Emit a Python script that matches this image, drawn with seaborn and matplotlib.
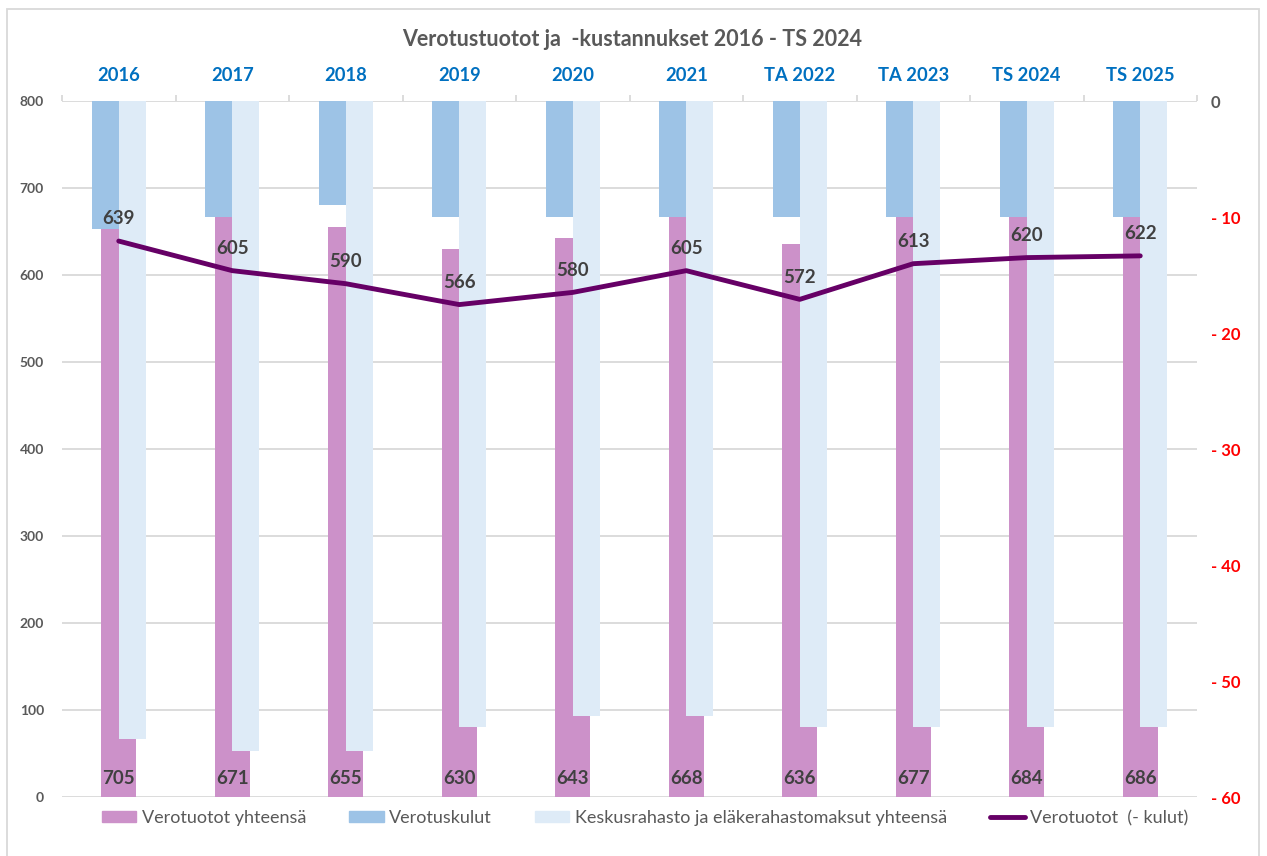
import numpy as np
import pandas as pd
import seaborn as sns
import matplotlib.pyplot as plt
from matplotlib.patches import Patch, Rectangle
from matplotlib.lines import Line2D

# data
vuodet = ["2016", "2017", "2018", "2019", "2020", "2021", "TA 2022", "TA 2023", "TS 2024", "TS 2025"]
verotuotot = [705, 671, 655, 630, 643, 668, 636, 677, 684, 686]
netto = [639, 605, 590, 566, 580, 605, 572, 613, 620, 622]
verotuskulut = [-11, -10, -9, -10, -10, -10, -10, -10, -10, -10]
keskusrahasto = [-55, -56, -56, -54, -53, -53, -54, -54, -54, -54]

left_ticks = [0, 100, 200, 300, 400, 500, 600, 700, 800]
right_ticks = [0, -10, -20, -30, -40, -50, -60]

PINK = "#CC91C9"
BLUE = "#9DC3E6"
LBLUE = "#DEEBF7"
PURPLE = "#660066"
GRAY = "#595959"
DARK = "#404040"
GRID = "#D9D9D9"

sns.set_style("white")
plt.rcParams["font.family"] = ["Lato", "DejaVu Sans"]

fig = plt.figure(figsize=(12.67, 8.56), dpi=100)
ax = fig.add_axes([62 / 1267, 1 - 797 / 856, 1135 / 1267, 696 / 856])

# pink bars on the left axis
sns.barplot(x=vuodet, y=verotuotot, ax=ax, color=PINK, width=0.31,
            saturation=1, errorbar=None, linewidth=0)
ax.set_ylim(0, 800)
ax.set_yticks(left_ticks)
ax.yaxis.grid(True, color=GRID, linewidth=1.3)
ax.set_axisbelow(True)
for s in ax.spines.values():
    s.set_visible(False)
ax.xaxis.tick_top()
ax.tick_params(axis="x", which="major", length=0, pad=12, labelsize=13.2,
               labelcolor="#0070C0")
for t in ax.get_xticklabels():
    t.set_fontweight("bold")
ax.set_xticks(np.arange(-0.5, len(vuodet), 1), minor=True)
ax.tick_params(axis="x", which="minor", length=4, color=GRID, width=1.3,
               top=True, bottom=False)
ax.tick_params(axis="y", length=0, pad=13, labelsize=10, labelcolor=GRAY)
for t in ax.get_yticklabels():
    t.set_fontweight("bold")
ax.set_xlabel("")
ax.set_ylabel("")
for i, v in enumerate(verotuotot):
    ax.annotate(str(v), xy=(i, 0), xytext=(0, 13), textcoords="offset points",
                ha="center", va="center", fontsize=13.5, fontweight="bold", color=DARK)

# cost bars on the right axis
ax2 = ax.twinx()
kulut = pd.DataFrame({
    "vuosi": vuodet * 2,
    "sarja": ["Verotuskulut"] * len(vuodet) + ["Keskusrahasto"] * len(vuodet),
    "arvo": verotuskulut + keskusrahasto,
})
sns.barplot(data=kulut, x="vuosi", y="arvo", hue="sarja", palette=[BLUE, LBLUE],
            width=0.48, saturation=1, errorbar=None, legend=False, linewidth=0, ax=ax2)
ax2.set_ylim(-60, 0)
ax2.set_yticks(right_ticks)
ax2.set_yticklabels(["0" if v == 0 else f"- {abs(v)}" for v in right_ticks])
ax2.tick_params(axis="y", length=0, pad=10, labelsize=12)
for t, v in zip(ax2.get_yticklabels(), right_ticks):
    t.set_fontweight("bold")
    t.set_color(GRAY if v == 0 else "#FF0000")
for s in ax2.spines.values():
    s.set_visible(False)
ax2.set_ylabel("")

# net line on top
ax3 = ax.twinx()
sns.lineplot(x=vuodet, y=netto, ax=ax3, color=PURPLE, linewidth=3.5)
ax3.set_ylim(0, 800)
ax3.yaxis.set_visible(False)
for s in ax3.spines.values():
    s.set_visible(False)
for i, v in enumerate(netto):
    ax3.annotate(str(v), xy=(i, v), xytext=(0, 16), textcoords="offset points",
                 ha="center", va="center", fontsize=13.5, fontweight="bold", color=DARK)

ax.set_xlim(-0.5, len(vuodet) - 0.5)

fig.text(632 / 1267, 1 - 40 / 856, "Verotustuotot ja  -kustannukset 2016 - TS 2024",
         ha="center", va="center", fontsize=15.5, fontweight="bold", color=GRAY)

handles = [
    Patch(color=PINK),
    Patch(color=BLUE),
    Patch(color=LBLUE),
    Line2D([], [], color=PURPLE, linewidth=3.5),
]
labels = ["Verotuotot yhteensä", "Verotuskulut",
          "Keskusrahasto ja eläkerahastomaksut yhteensä", "Verotuotot  (- kulut)"]
fig.legend(handles, labels, loc="center", bbox_to_anchor=(645 / 1267, 1 - 818 / 856),
           ncol=4, frameon=False, fontsize=13, labelcolor=GRAY,
           handlelength=1.9, handleheight=0.55, handletextpad=0.3, columnspacing=2.4)

fig.patches.append(Rectangle((7 / 1267, -0.02), 1252 / 1267, 1.02 - 9 / 856,
                             transform=fig.transFigure, fill=False,
                             edgecolor=GRID, linewidth=1.3))

fig.savefig("out.png", dpi=100)
